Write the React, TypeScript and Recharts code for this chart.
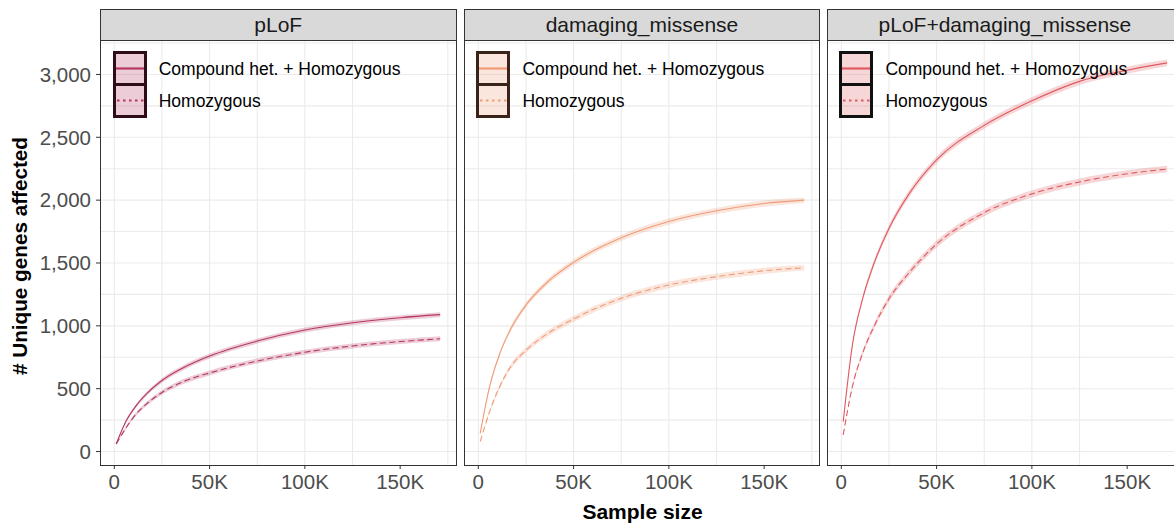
import { ComposedChart, Line, Area, XAxis, YAxis, CartesianGrid } from "recharts";

const SAMPLE_SIZES = [1000, 6000, 11000, 17000, 25000, 36000, 50000, 75000, 100000, 125000, 150000, 171000];

const PLOF_BOTH = [60, 237, 355, 460, 565, 665, 760, 879, 967, 1025, 1065, 1089];
const PLOF_HOM = [60, 185, 290, 380, 470, 555, 625, 720, 790, 840, 875, 897];
const PLOF_SPREAD = [3, 10, 14, 16, 18, 20, 20, 20, 20, 20, 20, 20];

const MIS_BOTH = [145, 520, 768, 975, 1165, 1345, 1505, 1700, 1830, 1915, 1973, 2000];
const MIS_HOM = [79, 320, 510, 675, 805, 935, 1055, 1219, 1325, 1391, 1438, 1462];
const MIS_SPREAD = [3, 12, 16, 20, 22, 24, 25, 25, 25, 25, 25, 22];

const ALL_BOTH = [238, 865, 1205, 1490, 1775, 2060, 2320, 2595, 2790, 2945, 3034, 3092];
const ALL_HOM = [132, 529, 775, 990, 1215, 1430, 1650, 1900, 2050, 2145, 2210, 2247];
const ALL_SPREAD = [4, 14, 20, 24, 26, 28, 28, 28, 28, 28, 28, 26];

const X_TICKS = [0, 50000, 100000, 150000];
const X_GRID = [0, 25000, 50000, 75000, 100000, 125000, 150000, 175000];
const Y_TICKS = [0, 500, 1000, 1500, 2000, 2500, 3000];
const Y_GRID = [0, 250, 500, 750, 1000, 1250, 1500, 1750, 2000, 2250, 2500, 2750, 3000, 3250];
const X_DOMAIN = [-7503, 179563];
const Y_DOMAIN = [-107, 3274];

const LEGEND_LABELS = ["Compound het. + Homozygous", "Homozygous"];

const FONT = '"Liberation Sans", Arial, Helvetica, sans-serif';
const PW = 356.5;
const TOP = 40;
const BOTTOM = 465;

const PANELS = [
  { title: "pLoF", both: PLOF_BOTH, hom: PLOF_HOM, spread: PLOF_SPREAD, color: "#b5375f", keyBorder: "#2e0d19", left: 100 },
  { title: "damaging_missense", both: MIS_BOTH, hom: MIS_HOM, spread: MIS_SPREAD, color: "#f09b76", keyBorder: "#3a2318", left: 463.7 },
  { title: "pLoF+damaging_missense", both: ALL_BOTH, hom: ALL_HOM, spread: ALL_SPREAD, color: "#df5a61", keyBorder: "#111111", left: 826.7 },
];

const fmtK = (v: number) => (v === 0 ? "0" : `${v / 1000}K`);
const fmtComma = (v: number) => v.toLocaleString("en-US");

function buildRows(p: typeof PANELS[number]) {
  return SAMPLE_SIZES.map((n, i) => ({
    n,
    both: p.both[i],
    hom: p.hom[i],
    bothBand: [p.both[i] - p.spread[i], p.both[i] + p.spread[i]],
    homBand: [p.hom[i] - p.spread[i], p.hom[i] + p.spread[i]],
  }));
}

function KeyLegend({ color, border, left }: { color: string; border: string; left: number }) {
  return (
    <div style={{ position: "absolute", left: left + 12.7, top: 51 }}>
      <svg width={35} height={68} style={{ position: "absolute", left: 0, top: 0 }}>
        <rect x={1.5} y={1.5} width={31} height={32} fill={color} fillOpacity={0.25} stroke={border} strokeWidth={3} />
        <rect x={1.5} y={33.5} width={31} height={32} fill={color} fillOpacity={0.25} stroke={border} strokeWidth={3} />
        <line x1={3} x2={31} y1={17.5} y2={17.5} stroke={color} strokeWidth={2.2} />
        <line x1={4} x2={31} y1={49.5} y2={49.5} stroke={color} strokeWidth={2.2} strokeDasharray="2.5 3.5" />
      </svg>
      {LEGEND_LABELS.map((t, i) => (
        <div key={t} style={{ position: "absolute", left: 46, top: 17.5 + i * 32 - 11, fontSize: 17.5, lineHeight: "22px", whiteSpace: "nowrap", color: "#000" }}>
          {t}
        </div>
      ))}
    </div>
  );
}

function Panel({ p, idx }: { p: typeof PANELS[number]; idx: number }) {
  const rows = buildRows(p);
  const yw = idx === 0 ? 100 : 0;
  return (
    <div style={{ position: "absolute", left: p.left - yw, top: 0 }}>
      <ComposedChart width={PW + yw} height={525} data={rows} margin={{ top: TOP, right: 0, bottom: 0, left: 0 }}>
        <CartesianGrid stroke="#ebebeb" strokeWidth={1.1} horizontalValues={Y_GRID} verticalValues={X_GRID} />
        <XAxis
          type="number"
          dataKey="n"
          domain={X_DOMAIN}
          ticks={X_TICKS}
          tickFormatter={fmtK}
          allowDataOverflow
          height={525 - BOTTOM}
          axisLine={false}
          tickSize={4}
          tickMargin={5}
          tickLine={{ stroke: "#333333" }}
          tick={{ fill: "#4d4d4d", fontSize: 20.5, fontFamily: FONT }}
        />
        <YAxis
          type="number"
          domain={Y_DOMAIN}
          ticks={Y_TICKS}
          tickFormatter={fmtComma}
          allowDataOverflow
          hide={idx > 0}
          width={100}
          axisLine={false}
          tickSize={4}
          tickMargin={5}
          tickLine={{ stroke: "#333333" }}
          tick={{ fill: "#4d4d4d", fontSize: 20.5, fontFamily: FONT }}
        />
        <Area type="monotone" dataKey="bothBand" stroke="none" fill={p.color} fillOpacity={0.25} isAnimationActive={false} />
        <Area type="monotone" dataKey="homBand" stroke="none" fill={p.color} fillOpacity={0.25} isAnimationActive={false} />
        <Line type="monotone" dataKey="both" stroke={p.color} strokeWidth={1.1} dot={false} isAnimationActive={false} />
        <Line type="monotone" dataKey="hom" stroke={p.color} strokeWidth={1.1} strokeDasharray="6 3.5" dot={false} isAnimationActive={false} />
      </ComposedChart>
    </div>
  );
}

export default function App() {
  return (
    <div style={{ position: "absolute", left: 0, top: 0, width: 1174, height: 525, overflow: "hidden", background: "#fff", fontFamily: FONT }}>
      {PANELS.map((p, i) => (
        <Panel key={p.title} p={p} idx={i} />
      ))}
      {PANELS.map((p) => (
        <div key={p.title + "-frame"}>
          <div
            style={{
              position: "absolute", left: p.left, top: 9, width: PW, height: 32, boxSizing: "border-box",
              border: "1px solid #333333", background: "#d9d9d9", color: "#1a1a1a", fontSize: 21,
              lineHeight: "30px", textAlign: "center",
            }}
          >
            {p.title}
          </div>
          <div
            style={{
              position: "absolute", left: p.left, top: TOP, width: PW, height: BOTTOM - TOP + 1,
              boxSizing: "border-box", border: "1px solid #333333", pointerEvents: "none",
            }}
          />
          <KeyLegend color={p.color} border={p.keyBorder} left={p.left} />
        </div>
      ))}
      <div
        style={{
          position: "absolute", left: 20, top: 256, transform: "translate(-50%, -50%) rotate(-90deg)",
          fontWeight: "bold", fontSize: 20.7, whiteSpace: "nowrap", color: "#000",
        }}
      >
        # Unique genes affected
      </div>
      <div
        style={{
          position: "absolute", left: 642.5, top: 512, transform: "translate(-50%, -50%)",
          fontWeight: "bold", fontSize: 21, whiteSpace: "nowrap", color: "#000",
        }}
      >
        Sample size
      </div>
    </div>
  );
}
